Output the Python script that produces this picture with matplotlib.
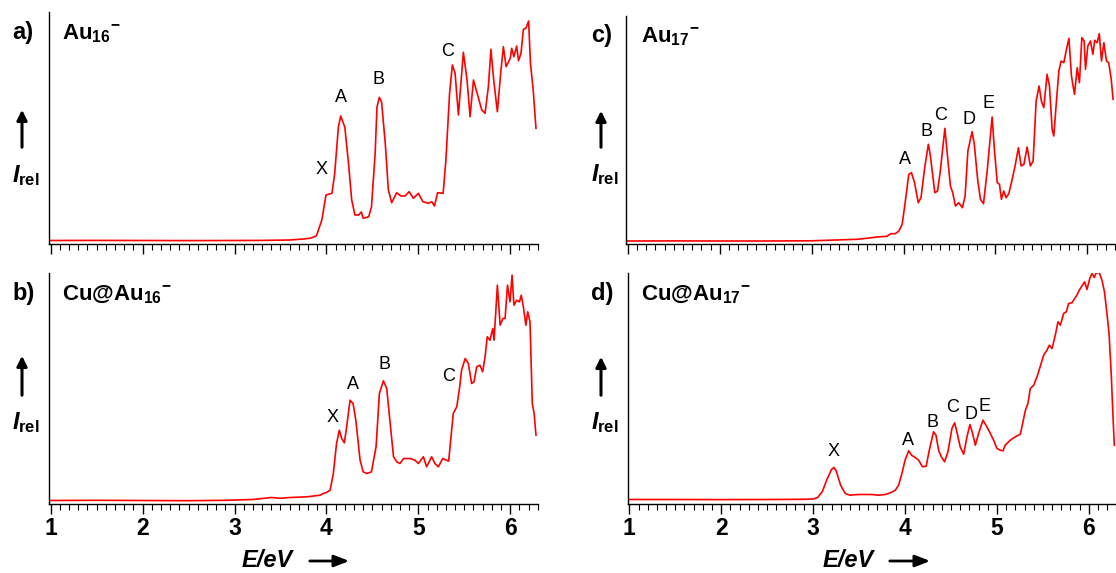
import matplotlib
matplotlib.use("Agg")
import matplotlib.pyplot as plt
from matplotlib.ticker import MultipleLocator

plt.rcParams['font.family'] = ['Liberation Sans', 'DejaVu Sans']
plt.rcParams['mathtext.fontset'] = 'custom'
plt.rcParams['mathtext.rm'] = 'Liberation Sans'
plt.rcParams['mathtext.it'] = 'Liberation Sans:italic:bold'
plt.rcParams['mathtext.bf'] = 'Liberation Sans:bold'

# ---------------- data: (E / eV, relative intensity) ----------------
spec_a = [(1.0, 3.5), (1.5, 3.6), (2.0, 3.5), (2.5, 3.4), (3.0, 3.5), (3.3, 3.6), (3.6, 4.0),
          (3.75, 5.0), (3.82, 5.7), (3.89, 8.0), (3.95, 24), (3.995, 49), (4.03, 50), (4.06, 50.7),
          (4.09, 70.7), (4.13, 117), (4.155, 128), (4.184, 120.7), (4.20, 117), (4.24, 80.7),
          (4.275, 44), (4.31, 29), (4.35, 29), (4.38, 32), (4.40, 25.7), (4.46, 27.3), (4.49, 37),
          (4.53, 90.7), (4.55, 137), (4.576, 146.7), (4.60, 142), (4.64, 100.7), (4.674, 54),
          (4.71, 41.3), (4.764, 51.3), (4.81, 48), (4.855, 48), (4.90, 52.3), (4.946, 45.7),
          (5.0, 50.7), (5.05, 42.3), (5.11, 40.7), (5.146, 42.3), (5.175, 38), (5.21, 51.3),
          (5.27, 50.7), (5.30, 84), (5.34, 150.7), (5.37, 179), (5.40, 170.7), (5.436, 129),
          (5.46, 157), (5.49, 191.7), (5.53, 164), (5.563, 127.3), (5.60, 164), (5.635, 152.3),
          (5.69, 134), (5.726, 130.7), (5.762, 157.3), (5.79, 194.7), (5.82, 164), (5.86, 132.3),
          (5.896, 170.7), (5.925, 197.3), (5.955, 177.3), (6.0, 185.7), (6.016, 195.7),
          (6.04, 187.3), (6.07, 198), (6.09, 183.3), (6.117, 190.7), (6.143, 214.7),
          (6.17, 215.7), (6.20, 223), (6.22, 180.7), (6.25, 154), (6.28, 115.7)]

spec_b = [(1.0, 3.0), (1.5, 3.2), (2.0, 3.0), (2.5, 2.8), (2.9, 3.2), (3.2, 4.0), (3.4, 6.0),
          (3.5, 5.2), (3.604, 6.0), (3.79, 6.7), (3.93, 8.3), (3.967, 10), (4.0, 11),
          (4.04, 13.3), (4.075, 30), (4.11, 60), (4.14, 73.3), (4.166, 65), (4.195, 60.7),
          (4.22, 76.7), (4.257, 103.3), (4.29, 100), (4.32, 83.3), (4.366, 43.3), (4.40, 31.7),
          (4.44, 30), (4.49, 31.7), (4.54, 56.7), (4.576, 110), (4.62, 122.7), (4.656, 115),
          (4.69, 83.3), (4.73, 46.7), (4.765, 41.7), (4.80, 40), (4.84, 45), (4.91, 45),
          (4.964, 43.3), (5.0, 40), (5.055, 46.7), (5.09, 36.7), (5.145, 46.7), (5.18, 40),
          (5.218, 36.7), (5.265, 45), (5.33, 42.3), (5.345, 56.7), (5.38, 90), (5.418, 96.7),
          (5.45, 116.7), (5.47, 133.3), (5.51, 145), (5.544, 140), (5.58, 120), (5.606, 121.7),
          (5.635, 136.7), (5.67, 138.3), (5.70, 131.7), (5.726, 146.7), (5.75, 166.7),
          (5.78, 163.3), (5.81, 175), (5.824, 163.3), (5.86, 218.3), (5.89, 178.3), (5.92, 185),
          (5.944, 185), (5.97, 218.3), (5.998, 201.7), (6.02, 228.3), (6.04, 198.3),
          (6.07, 203.3), (6.10, 201.7), (6.12, 208.3), (6.143, 196.7), (6.17, 178.3),
          (6.19, 191.7), (6.215, 181.7), (6.24, 100), (6.26, 90), (6.28, 68.3)]

spec_c = [(1.0, 3.0), (1.5, 3.1), (2.0, 3.0), (2.5, 3.0), (3.0, 3.2), (3.2, 3.8), (3.495, 4.7),
          (3.60, 5.7), (3.71, 7.0), (3.82, 7.7), (3.86, 10.3), (3.91, 10.3), (3.95, 13),
          (3.985, 19.7), (4.02, 43), (4.057, 69.7), (4.086, 71.3), (4.12, 61.3), (4.16, 41.3),
          (4.19, 46.3), (4.23, 76.3), (4.27, 99.7), (4.29, 89.7), (4.34, 51.3), (4.37, 53),
          (4.40, 73), (4.45, 115.7), (4.48, 86.3), (4.51, 58), (4.535, 51.3), (4.565, 38),
          (4.60, 41.3), (4.64, 36.3), (4.67, 48), (4.70, 93), (4.746, 112.3), (4.77, 99.7),
          (4.808, 63), (4.837, 44.7), (4.87, 40.3), (4.91, 73), (4.964, 127), (4.99, 93),
          (5.02, 61.3), (5.044, 59.7), (5.065, 44.7), (5.09, 53), (5.116, 46.3), (5.145, 50.3),
          (5.17, 59.7), (5.21, 76.3), (5.25, 96.3), (5.28, 78), (5.31, 79.7), (5.345, 97),
          (5.38, 78), (5.41, 83), (5.443, 143), (5.475, 158), (5.50, 143), (5.526, 136.3),
          (5.562, 169.7), (5.588, 158), (5.617, 114.7), (5.635, 108), (5.664, 143), (5.69, 173),
          (5.715, 183), (5.744, 181.3), (5.773, 194.7), (5.80, 205.7), (5.827, 168),
          (5.86, 149.7), (5.89, 176.3), (5.914, 161.3), (5.94, 206.3), (5.965, 203),
          (5.98, 174.7), (6.005, 198), (6.034, 203), (6.06, 189.7), (6.08, 203.7),
          (6.107, 201.3), (6.13, 210.3), (6.154, 183), (6.18, 201.3), (6.208, 183),
          (6.233, 181.3), (6.26, 164.7), (6.28, 144.7)]

spec_d = [(1.0, 4.0), (1.5, 4.0), (2.0, 3.9), (2.5, 4.0), (2.9, 4.2), (3.0, 4.5), (3.05, 6),
          (3.1, 12), (3.15, 24), (3.2, 34), (3.225, 36), (3.25, 33), (3.3, 18), (3.35, 10),
          (3.4, 8.3), (3.495, 9), (3.64, 9), (3.71, 8.3), (3.785, 9), (3.84, 10.7),
          (3.894, 13.3), (3.93, 18.3), (3.966, 30), (4.0, 43.3), (4.04, 52.7), (4.07, 48.3),
          (4.11, 46), (4.148, 43.3), (4.19, 36.7), (4.23, 37.3), (4.264, 53.3), (4.31, 71.7),
          (4.337, 68.3), (4.365, 53.3), (4.395, 46.7), (4.43, 41.7), (4.467, 51.7), (4.51, 75),
          (4.54, 80.7), (4.568, 70), (4.60, 56.7), (4.638, 49.3), (4.674, 66.7), (4.706, 79),
          (4.735, 70), (4.765, 58.3), (4.80, 70), (4.848, 83.3), (4.89, 76.7), (4.928, 70),
          (4.964, 63.3), (5.0, 55), (5.036, 53.3), (5.066, 52.7), (5.09, 58.3), (5.145, 63.3),
          (5.20, 66.7), (5.254, 69.3), (5.272, 76.7), (5.31, 93.3), (5.337, 100), (5.363, 115),
          (5.40, 118.3), (5.436, 126.7), (5.47, 136.7), (5.508, 148.3), (5.544, 153.3),
          (5.57, 158.3), (5.60, 155), (5.635, 168.3), (5.664, 181.7), (5.69, 178.3),
          (5.726, 190), (5.755, 191.7), (5.78, 200), (5.816, 200.7), (5.845, 205),
          (5.87, 208.3), (5.896, 213.3), (5.93, 218.3), (5.954, 221.7), (5.98, 214),
          (6.01, 225), (6.034, 230), (6.06, 226), (6.08, 230.7), (6.114, 230.7), (6.143, 223.3),
          (6.17, 211.7), (6.197, 190), (6.22, 170), (6.245, 126.7), (6.263, 86.7), (6.277, 58.3)]

# peak labels: (text, E, intensity)
labels_a = [("X", 3.95, 74), ("A", 4.155, 146), ("B", 4.57, 165), ("C", 5.316, 192)]
labels_b = [("X", 4.065, 86), ("A", 4.286, 119), ("B", 4.63, 139), ("C", 5.334, 127)]
labels_c = [("A", 4.014, 84), ("B", 4.25, 112), ("C", 4.40, 128), ("D", 4.71, 125), ("E", 4.928, 140)]
labels_d = [("X", 3.22, 52), ("A", 4.03, 63), ("B", 4.30, 81), ("C", 4.52, 96), ("D", 4.72, 89), ("E", 4.866, 97)]

tags = ["a)", "b)", "c)", "d)"]
titles = [r"$\mathbf{Au}_{\mathbf{16}}{}^{\mathbf{-}}$",
          r"$\mathbf{Cu@Au}_{\mathbf{16}}{}^{\mathbf{-}}$",
          r"$\mathbf{Au}_{\mathbf{17}}{}^{\mathbf{-}}$",
          r"$\mathbf{Cu@Au}_{\mathbf{17}}{}^{\mathbf{-}}$"]
xticks = [1, 2, 3, 4, 5, 6]

# ---------------- figure ----------------
W, H = 1116, 573
fig = plt.figure(figsize=(W / 100, H / 100), dpi=100)

def px_rect(left, top, right, bottom):
    return [left / W, 1 - bottom / H, (right - left) / W, (bottom - top) / H]

XMIN, XMAX = 0.98, 6.30
UNIT = 91.9
panels = [
    # spec, labels, left px, top px, bottom px, has ticklabels
    (spec_a, labels_a, 48.9, 12, 244, False),
    (spec_b, labels_b, 48.9, 273, 503.5, True),
    (spec_c, labels_c, 626.0, 16, 244, False),
    (spec_d, labels_d, 627.5, 273, 503.5, True),
]

for k, (spec, labs, left, top, bottom, show) in enumerate(panels):
    right = left + (XMAX - XMIN) * UNIT
    ax = fig.add_axes(px_rect(left, top, right, bottom))
    e, inten = zip(*spec)
    ax.plot(e, inten, color="#ff0000", lw=1.2, solid_joinstyle="round")
    ax.set_xlim(XMIN, XMAX)
    ax.set_ylim(0, bottom - top)
    for s in ("top", "right"):
        ax.spines[s].set_visible(False)
    ax.spines["left"].set_linewidth(1.0)
    ax.spines["bottom"].set_linewidth(1.0)
    ax.set_yticks([])
    ax.set_xticks(xticks)
    ax.xaxis.set_minor_locator(MultipleLocator(0.1))
    ax.tick_params(axis="x", which="major", direction="out", length=7, width=1.0,
                   labelsize=16.5, pad=3)
    ax.tick_params(axis="x", which="minor", direction="out", length=4, width=0.8)
    if show:
        for t in ax.get_xticklabels():
            t.set_fontweight("bold")
    else:
        ax.tick_params(axis="x", labelbottom=False)
    for txt, xe, yi in labs:
        ax.text(xe, yi, txt, ha="center", va="center", fontsize=13)

# panel tags, titles, I_rel axis labels
tag_pos = [(12, 39), (12, 300), (591, 42), (591, 300)]
title_x = [62, 62, 641, 641]
irel_pos = [(12, 182), (12, 429), (591, 181), (591, 429)]
arrow_pos = [(22, 150, 107), (22, 398, 353), (601, 150, 108), (601, 398, 354)]
for k in range(4):
    tx, ty = tag_pos[k]
    fig.text(tx / W, 1 - ty / H, tags[k], ha="left", va="baseline", fontsize=17, fontweight="bold")
    fig.text(title_x[k] / W, 1 - ty / H, titles[k], ha="left", va="baseline", fontsize=16)
    ix, iy = irel_pos[k]
    fig.text(ix / W, 1 - iy / H, r"$\mathit{I}_{\mathbf{rel}}$", ha="left", va="baseline", fontsize=17)
    axx, ay0, ay1 = arrow_pos[k]
    fig.patches.append(matplotlib.patches.FancyArrowPatch(
        (axx / W, 1 - ay0 / H), (axx / W, 1 - ay1 / H), transform=fig.transFigure,
        arrowstyle="-|>,head_length=6,head_width=3", mutation_scale=1, lw=2.2, color="black"))

# x axis labels
for (lx, ax0, ax1) in [(242, 307, 352), (823, 887, 933)]:
    fig.text(lx / W, 1 - 567 / H, "E/eV", ha="left", va="baseline", fontsize=17,
             fontweight="bold", style="italic")
    fig.patches.append(matplotlib.patches.FancyArrowPatch(
        (ax0 / W, 1 - 561 / H), (ax1 / W, 1 - 561 / H), transform=fig.transFigure,
        arrowstyle="-|>,head_length=9,head_width=3.5", mutation_scale=1, lw=2.0, color="black"))

fig.savefig("out.png", dpi=100)
